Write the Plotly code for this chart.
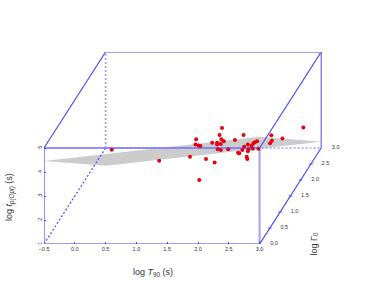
import plotly.graph_objects as go

# Projection of the depth axis: one unit of log Gamma moves 1/3 in x and 4/3 in z
DEPTH_DX = 1 / 3
DEPTH_DZ = 4 / 3

x_min, x_max = -0.5, 3.0
z_min, z_max = 1.0, 5.0
g_min, g_max = 0.0, 3.0

x_ticks = [-0.5, 0.0, 0.5, 1.0, 1.5, 2.0, 2.5, 3.0]
z_ticks = [1, 2, 3, 4, 5]
g_ticks = [0.0, 0.5, 1.0, 1.5, 2.0, 2.5, 3.0]

# Points as they appear on the page, in (log T90, log t) page-plane units
points_x = [2.39, 1.97, 2.35, 2.74, 2.38, 2.42, 2.23, 2.31, 2.31, 2.37, 1.96, 2.01, 2.04,
            2.60, 2.75, 2.81, 2.90, 2.96, 2.92, 2.32, 2.37, 2.49, 2.72, 2.65, 2.67, 2.82,
            2.81, 2.87, 2.89, 2.98, 2.79, 2.80, 1.87, 2.13, 2.27, 2.02, 3.19, 3.20, 3.17,
            3.37, 3.71, 0.60, 1.37]
points_z = [5.83, 5.36, 5.54, 5.54, 5.36, 5.28, 5.22, 5.22, 5.15, 5.17, 5.15, 5.10, 5.08,
            5.33, 5.05, 5.15, 5.20, 5.28, 5.24, 4.95, 4.92, 4.95, 4.92, 4.80, 4.78, 4.95,
            4.86, 5.08, 4.97, 4.97, 4.64, 4.54, 4.64, 4.54, 4.40, 3.67, 5.53, 5.30, 5.20,
            5.40, 5.85, 4.93, 4.47]

# Fitted plane at the four corners of the (log T90, log Gamma) floor
plane_x = [-0.5, 3.0, 3.0, -0.5]
plane_g = [0.0, 0.0, 3.0, 3.0]
plane_z = [4.46, 5.47, 1.26, 0.26]

BLUE = "#4a4afa"
PALE = "#a0a0fb"
TEXT = "#333333"
FONT = "Liberation Sans"


def px(x, g):
    return x + g * DEPTH_DX


def pz(z, g):
    return z + g * DEPTH_DZ


def seg(x0, g0, z0, x1, g1, z1, color, width=1.0, dash="solid"):
    return go.Scatter(x=[px(x0, g0), px(x1, g1)], y=[pz(z0, g0), pz(z1, g1)], mode="lines",
                      line=dict(color=color, width=width, dash=dash), hoverinfo="skip",
                      cliponaxis=False, showlegend=False)


fig = go.Figure()

# plane
fig.add_trace(go.Scatter(
    x=[px(a, b) for a, b in zip(plane_x, plane_g)] + [px(plane_x[0], plane_g[0])],
    y=[pz(a, b) for a, b in zip(plane_z, plane_g)] + [pz(plane_z[0], plane_g[0])],
    mode="lines", fill="toself", fillcolor="#cccccc", line=dict(width=0, color="#cccccc"),
    hoverinfo="skip", showlegend=False))

# hidden box edges
fig.add_trace(seg(x_min, g_min, z_min, x_min, g_max, z_min, BLUE, 1.2, "2px,2px"))
fig.add_trace(seg(x_min, g_max, z_min, x_min, g_max, z_max, PALE, 1.6, "2px,2px"))
fig.add_trace(seg(x_min, g_max, z_min, x_max, g_max, z_min, PALE, 1.6, "2px,2px"))

# front frame (pale, thick) and left / back edges
fig.add_trace(seg(x_min, g_min, z_min, x_max, g_min, z_min, PALE, 2.0))
fig.add_trace(seg(x_max, g_min, z_min, x_max, g_min, z_max, PALE, 2.0))
fig.add_trace(seg(x_min, g_min, z_max, x_max, g_min, z_max, PALE, 1.6))
fig.add_trace(seg(x_min, g_min, z_min, x_min, g_min, z_max, BLUE, 1.2))

# points
fig.add_trace(go.Scatter(x=points_x, y=points_z, mode="markers",
                         marker=dict(color="#e8000b", size=4.0, line=dict(width=0)),
                         hoverinfo="skip", cliponaxis=False, showlegend=False))

# edges drawn above the points
fig.add_trace(seg(x_min, g_min, z_max, x_max, g_min, z_max, "rgba(60,60,245,0.6)", 1.2))
fig.add_trace(seg(x_min, g_min, z_max, x_min, g_max, z_max, BLUE, 1.2))
fig.add_trace(seg(x_max, g_min, z_max, x_max, g_max, z_max, BLUE, 1.2))
fig.add_trace(seg(x_min, g_max, z_max, x_max, g_max, z_max, PALE, 1.8))
fig.add_trace(seg(x_max, g_max, z_min, x_max, g_max, z_max, BLUE, 1.0))
fig.add_trace(seg(x_max, g_min, z_min, x_max, g_max, z_min, BLUE, 1.2))

# depth-axis ticks and labels
fig.add_trace(go.Scatter(
    x=[px(x_max, g) for g in g_ticks[1:-1]], y=[pz(z_min, g) for g in g_ticks[1:-1]],
    mode="markers", marker=dict(symbol="line-ew", size=2.5, line=dict(color=BLUE, width=1)),
    hoverinfo="skip", cliponaxis=False, showlegend=False))
fig.add_trace(go.Scatter(
    x=[px(x_max, g) + 0.235 for g in g_ticks], y=[pz(z_min, g) for g in g_ticks],
    mode="text", text=[f"{g:.1f}" for g in g_ticks],
    textfont=dict(family=FONT, size=5.5, color=TEXT), textposition="middle center",
    hoverinfo="skip", cliponaxis=False, showlegend=False))

fig.update_xaxes(range=[-0.5, 4.5], showgrid=False, zeroline=False, showline=False,
                 tickmode="array", tickvals=x_ticks, ticktext=[f"{v:.1f}".replace("-", "\u2212") for v in x_ticks],
                 ticks="inside", ticklen=2, tickwidth=1, tickcolor=BLUE,
                 tickfont=dict(family=FONT, size=5.5, color=TEXT))
fig.update_yaxes(range=[1.0, 9.0], showgrid=False, zeroline=False, showline=False,
                 tickmode="array", tickvals=z_ticks, ticktext=[str(v) for v in z_ticks],
                 ticks="inside", ticklen=2, tickwidth=1, tickcolor=BLUE, tickangle=-90,
                 tickfont=dict(family=FONT, size=5.5, color=TEXT))

fig.update_layout(
    width=374, height=307, margin=dict(l=44, r=21.5, t=51.5, b=62.5, autoexpand=False),
    paper_bgcolor="white", plot_bgcolor="white", showlegend=False,
    annotations=[
        dict(text="log <i>T</i><sub>90</sub> (s)", xref="paper", yref="paper", x=0.353, y=-0.15,
             xanchor="center", yanchor="middle", showarrow=False,
             font=dict(family=FONT, size=9, color=TEXT)),
        dict(text="log <i>t</i><sub><i>p(Opt)</i></sub> (s)", xref="paper", yref="paper", x=-0.11, y=0.245,
             xanchor="center", yanchor="middle", textangle=-90, showarrow=False,
             font=dict(family=FONT, size=9, color=TEXT)),
        dict(text="log \u0393<sub>0</sub>", xref="paper", yref="paper", x=0.875, y=0.0,
             xanchor="center", yanchor="middle", textangle=-90, showarrow=False,
             font=dict(family=FONT, size=9, color=TEXT)),
    ],
)

fig.write_html("out.html", post_script="document.body.style.margin='0';",
               config={"displayModeBar": False})
